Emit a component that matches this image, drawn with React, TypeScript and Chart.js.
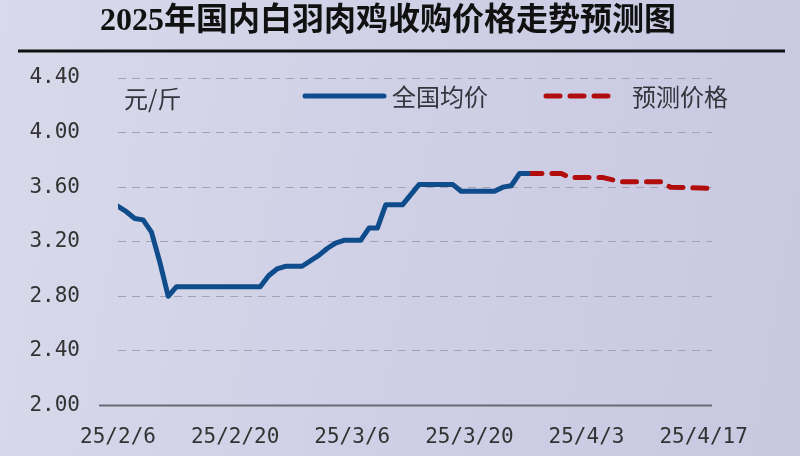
import { useEffect, useRef } from 'react';
import { Chart, registerables } from 'chart.js';

Chart.register(...registerables);

// day offsets from 2025-02-06
const actualDays = [0, 1, 2, 3, 4, 5, 6, 7, 17, 18, 19, 20, 22, 24, 25, 26, 27, 29, 30, 31, 32, 34, 36, 40, 41, 45, 46, 47, 48, 49];
const actualPrices = [3.46, 3.42, 3.37, 3.36, 3.27, 3.05, 2.8, 2.87, 2.87, 2.95, 3.0, 3.02, 3.02, 3.1, 3.15, 3.19, 3.21, 3.21, 3.3, 3.3, 3.47, 3.47, 3.62, 3.62, 3.57, 3.57, 3.6, 3.61, 3.7, 3.7];
const forecastDays = [49, 53, 54, 58, 60, 65, 66, 71];
const forecastPrices = [3.7, 3.7, 3.67, 3.67, 3.64, 3.64, 3.6, 3.59];
const tickDays = [0, 14, 28, 42, 56, 70];
const tickLabels = ['25/2/6', '25/2/20', '25/3/6', '25/3/20', '25/4/3', '25/4/17'];

const BLUE = '#0f4c8c';
const RED = '#b10d0d';
const DASH = [14, 10];
const CJK = '"Noto Sans CJK SC", "Noto Sans", sans-serif';

const decor = {
  id: 'decor',
  afterDraw(chart: Chart) {
    const { ctx, chartArea } = chart;
    ctx.save();
    // title
    ctx.fillStyle = '#111';
    ctx.font = 'bold 32px "Liberation Serif", "Noto Sans CJK SC", serif';
    ctx.textAlign = 'center';
    ctx.textBaseline = 'middle';
    ctx.fillText('2025年国内白羽肉鸡收购价格走势预测图', 388, 22);
    ctx.strokeStyle = '#111';
    ctx.lineWidth = 3;
    ctx.beginPath();
    ctx.moveTo(18, 51);
    ctx.lineTo(785, 51);
    ctx.stroke();

    // baseline at 2.00
    const yBase = chart.scales.y.getPixelForValue(2);
    ctx.strokeStyle = '#6a6a72';
    ctx.lineWidth = 2;
    ctx.beginPath();
    ctx.moveTo(chartArea.left - 19, yBase);
    ctx.lineTo(chartArea.right, yBase);
    ctx.stroke();

    // unit + legend
    ctx.font = `24px ${CJK}`;
    ctx.fillStyle = '#34343c';
    ctx.textAlign = 'left';
    ctx.fillText('元/斤', 124, 99);
    ctx.lineCap = 'round';
    ctx.lineWidth = 5;
    ctx.strokeStyle = BLUE;
    ctx.beginPath();
    ctx.moveTo(305, 96);
    ctx.lineTo(384, 96);
    ctx.stroke();
    ctx.fillText('全国均价', 392, 97);
    ctx.strokeStyle = RED;
    ctx.setLineDash(DASH);
    ctx.beginPath();
    ctx.moveTo(546, 96);
    ctx.lineTo(614, 96);
    ctx.stroke();
    ctx.setLineDash([]);
    ctx.fillText('预测价格', 632, 97);
    ctx.restore();
  },
};

export default function App() {
  const canvasRef = useRef<HTMLCanvasElement | null>(null);
  const chartRef = useRef<Chart | null>(null);

  useEffect(() => {
    if (!canvasRef.current) return;
    chartRef.current = new Chart(canvasRef.current, {
      type: 'line',
      data: {
        datasets: [
          {
            label: '全国均价',
            data: actualDays.map((d, i) => ({ x: d, y: actualPrices[i] })),
            borderColor: BLUE,
            borderWidth: 5,
            pointRadius: 0,
            tension: 0,
            borderJoinStyle: 'round',
            borderCapStyle: 'round',
          },
          {
            label: '预测价格',
            data: forecastDays.map((d, i) => ({ x: d, y: forecastPrices[i] })),
            borderColor: RED,
            borderWidth: 5,
            borderDash: DASH,
            pointRadius: 0,
            tension: 0,
            borderJoinStyle: 'round',
            borderCapStyle: 'round',
          },
        ],
      },
      options: {
        responsive: false,
        animation: false,
        layout: { padding: { left: 30, right: 88, top: 78, bottom: 0 } },
        plugins: { legend: { display: false }, title: { display: false }, tooltip: { enabled: false } },
        scales: {
          x: {
            type: 'linear',
            min: 0,
            max: 71,
            afterBuildTicks: (scale: any) => {
              scale.ticks = tickDays.map((v) => ({ value: v }));
            },
            afterFit: (scale: any) => {
              scale.height = 47;
            },
            grid: { display: false },
            border: { display: false },
            ticks: {
              autoSkip: false,
              maxRotation: 0,
              padding: 12,
              color: '#333',
              font: { family: '"DejaVu Sans Mono", monospace', size: 21 },
              callback: (v: any) => tickLabels[tickDays.indexOf(Number(v))] ?? '',
            },
          },
          y: {
            min: 2,
            max: 4.4,
            afterFit: (scale: any) => {
              scale.width = 88;
            },
            ticks: {
              stepSize: 0.4,
              padding: 38,
              color: '#333',
              font: { family: '"DejaVu Sans Mono", monospace', size: 21 },
              callback: (v: any) => Number(v).toFixed(2),
            },
            grid: {
              drawTicks: false,
              lineWidth: 1,
              color: (c: any) => (c.tick && Math.abs(c.tick.value - 2) < 1e-6 ? 'rgba(0,0,0,0)' : '#a2a2b2'),
            },
            border: { display: false, dash: [8, 6] },
          },
        },
      },
      plugins: [decor],
    });
    return () => {
      chartRef.current?.destroy();
      chartRef.current = null;
    };
  }, []);

  return (
    <div
      style={{
        position: 'fixed',
        left: 0,
        top: 0,
        width: 800,
        height: 456,
        background: 'linear-gradient(100deg, #d9d9eb 0%, #cfd0e6 50%, #c8c8e1 100%)',
      }}
    >
      <canvas ref={canvasRef} width={800} height={456} />
    </div>
  );
}
